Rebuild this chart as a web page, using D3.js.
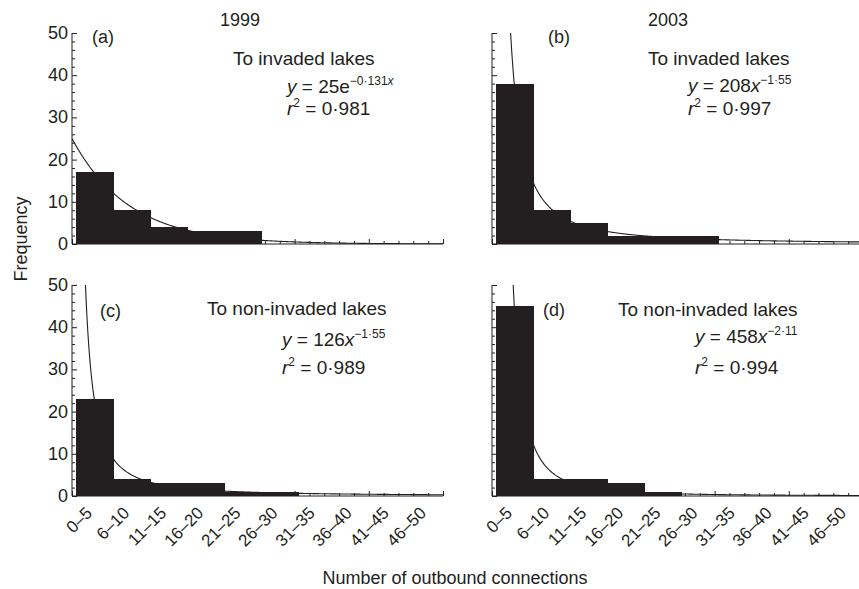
<!DOCTYPE html>
<html>
<head>
<meta charset="utf-8">
<script src="https://cdnjs.cloudflare.com/ajax/libs/d3/7.8.5/d3.min.js"></script>
<style>
  body { margin: 0; background: #fff; }
  text { font-family: "Liberation Sans", Arial, Helvetica, sans-serif; fill: #231f20; }
</style>
</head>
<body>
<svg id="chart" width="859" height="589"></svg>
<script>
// bin labels (number of outbound connections)
var bins = ["0\u20135", "6\u201310", "11\u201315", "16\u201320", "21\u201325",
            "26\u201330", "31\u201335", "36\u201340", "41\u201345", "46\u201350"];

// frequencies per bin
var invaded1999    = [17, 8, 4, 3, 3, 0, 0, 0, 0, 0];
var invaded2003    = [38, 8, 5, 2, 2, 2, 0, 0, 0, 0];
var nonInvaded1999 = [23, 4, 3, 3, 1, 1, 0, 0, 0, 0];
var nonInvaded2003 = [45, 4, 4, 3, 1, 0, 0, 0, 0, 0];

var yTicks = [0, 10, 20, 30, 40, 50];
var years = ["1999", "2003"];
var panelTags = ["(a)", "(b)", "(c)", "(d)"];
var targets = ["To invaded lakes", "To invaded lakes", "To non-invaded lakes", "To non-invaded lakes"];

// fitted curves printed on the figure
var fits = [
  { kind: "exp", a: 25,  b: -0.131, coef: "25e",  pow: "\u22120\u00b7131", r2: "0\u00b7981" },
  { kind: "pow", a: 208, b: -1.55,  coef: "208",  pow: "\u22121\u00b755",  r2: "0\u00b7997" },
  { kind: "pow", a: 126, b: -1.55,  coef: "126",  pow: "\u22121\u00b755",  r2: "0\u00b7989" },
  { kind: "pow", a: 458, b: -2.11,  coef: "458",  pow: "\u22122\u00b711",  r2: "0\u00b7994" }
];

var series = [invaded1999, invaded2003, nonInvaded1999, nonInvaded2003];

var svg = d3.select("#chart");
var ink = "#231f20";
var plotW = 371;

var panels = [
  { x0: 72,  top: 33,  bottom: 244, yLabels: true,  xLabels: false, txt: [92, 233, 287, 43, 65, 93, 115] },
  { x0: 492, top: 33,  bottom: 244, yLabels: false, xLabels: false, txt: [548, 648, 688, 43, 65, 92, 115] },
  { x0: 72,  top: 285, bottom: 496, yLabels: true,  xLabels: true,  txt: [100, 207, 282, 317, 315, 346, 374] },
  { x0: 492, top: 285, bottom: 496, yLabels: false, xLabels: true,  txt: [543, 618, 695, 316, 316, 343, 374] }
];

function fitValue(f, x) {
  if (f.kind === "exp") return f.a * Math.exp(f.b * x);
  return f.a * Math.pow(x, f.b);
}

panels.forEach(function(p, i) {
  var x = d3.scaleLinear().domain([0, 50]).range([p.x0, p.x0 + plotW]);
  var y = d3.scaleLinear().domain([0, 50]).range([p.bottom, p.top]);
  var g = svg.append("g");
  var data = series[i];

  g.append("clipPath").attr("id", "clip" + i)
    .append("rect")
    .attr("x", p.x0).attr("y", p.top)
    .attr("width", plotW).attr("height", p.bottom - p.top);

  // fitted curve (behind the bars)
  var pts = d3.range(0.05, 50.01, 0.05).map(function(t) { return [t, fitValue(fits[i], t)]; });
  if (fits[i].kind === "exp") pts.unshift([0, fits[i].a]);
  g.append("path")
    .datum(pts)
    .attr("clip-path", "url(#clip" + i + ")")
    .attr("fill", "none")
    .attr("stroke", ink)
    .attr("stroke-width", 1.1)
    .attr("d", d3.line()
      .x(function(d) { return x(d[0]); })
      .y(function(d) { return y(Math.min(d[1], 60)); }));

  // bars
  g.selectAll("rect.bar")
    .data(data)
  .enter().append("rect")
    .attr("class", "bar")
    .attr("shape-rendering", "crispEdges")
    .attr("x", function(d, j) { return Math.round(x(5 * j + 0.5)); })
    .attr("width", function(d, j) { return Math.round(x(5 * j + 5.5)) - Math.round(x(5 * j + 0.5)) + 1; })
    .attr("y", function(d) { return Math.round(y(d)); })
    .attr("height", function(d) { return Math.round(y(0)) - Math.round(y(d)); })
    .attr("fill", ink);

  // y axis (ticks pointing inward)
  var yAx = d3.axisRight(y).tickValues(d3.range(0, 51, 2))
    .tickSize(3).tickFormat("");
  var ya = g.append("g").attr("transform", "translate(" + p.x0 + ",0)").call(yAx);
  ya.selectAll(".tick line").attr("x2", function(d) { return d % 10 === 0 ? 5 : 3; });
  ya.select(".domain").attr("d", "M0," + p.top + "V" + p.bottom);
  ya.selectAll("line, path").attr("stroke", ink);

  if (p.yLabels) {
    g.selectAll("text.ylab")
      .data(yTicks)
    .enter().append("text")
      .attr("class", "ylab")
      .attr("x", p.x0 - 4)
      .attr("y", function(d) { return y(d) + 6; })
      .attr("text-anchor", "end")
      .attr("font-size", 18)
      .text(function(d) { return d; });
  }

  // x axis (ticks pointing up)
  var xAx = d3.axisTop(x).tickValues(d3.range(0, 51, 2)).tickSize(3).tickFormat("");
  var xa = g.append("g").attr("transform", "translate(0," + p.bottom + ")").call(xAx);
  xa.selectAll(".tick line").attr("y2", function(d) { return d % 10 === 0 ? -5 : -3; });
  xa.select(".domain").attr("d", "M" + p.x0 + ",0H" + (p.x0 + plotW));
  xa.selectAll("line, path").attr("stroke", ink);

  if (p.xLabels) {
    g.selectAll("text.xlab")
      .data(bins)
    .enter().append("text")
      .attr("class", "xlab")
      .attr("text-anchor", "end")
      .attr("font-size", 17)
      .attr("transform", function(d, j) {
        return "translate(" + (x(5 * j + 3) - 1) + "," + (p.bottom + 18) + ") rotate(-45)";
      })
      .text(function(d) { return d; });
  }

  // annotations
  var t = p.txt, f = fits[i];
  g.append("text").attr("x", t[0]).attr("y", t[3]).attr("font-size", 18).text(panelTags[i]);
  g.append("text").attr("x", t[1]).attr("y", t[4]).attr("font-size", 19).text(targets[i]);

  var eq = g.append("text").attr("x", t[2]).attr("y", t[5]).attr("font-size", 19);
  eq.append("tspan").attr("font-style", "italic").text("y");
  eq.append("tspan").text(" = " + f.coef);
  if (f.kind === "pow") eq.append("tspan").attr("font-style", "italic").text("x");
  var sup = eq.append("tspan").attr("dy", -8).attr("font-size", 12).text(f.pow);
  if (f.kind === "exp") sup.append("tspan").attr("font-style", "italic").text("x");

  var rr = g.append("text").attr("x", t[2]).attr("y", t[6]).attr("font-size", 19);
  rr.append("tspan").attr("font-style", "italic").text("r");
  rr.append("tspan").attr("dy", -8).attr("font-size", 12).text("2");
  rr.append("tspan").attr("dy", 8).text(" = " + f.r2);
});

// column titles and axis titles
svg.selectAll("text.year")
  .data(years)
.enter().append("text")
  .attr("class", "year")
  .attr("x", function(d, i) { return i === 0 ? 240 : 668; })
  .attr("y", 26)
  .attr("text-anchor", "middle")
  .attr("font-size", 18)
  .text(function(d) { return d; });

svg.append("text")
  .attr("transform", "translate(27,239) rotate(-90)")
  .attr("text-anchor", "middle")
  .attr("font-size", 18)
  .text("Frequency");

svg.append("text")
  .attr("x", 455).attr("y", 584)
  .attr("text-anchor", "middle")
  .attr("font-size", 18)
  .text("Number of outbound connections");
</script>
</body>
</html>
